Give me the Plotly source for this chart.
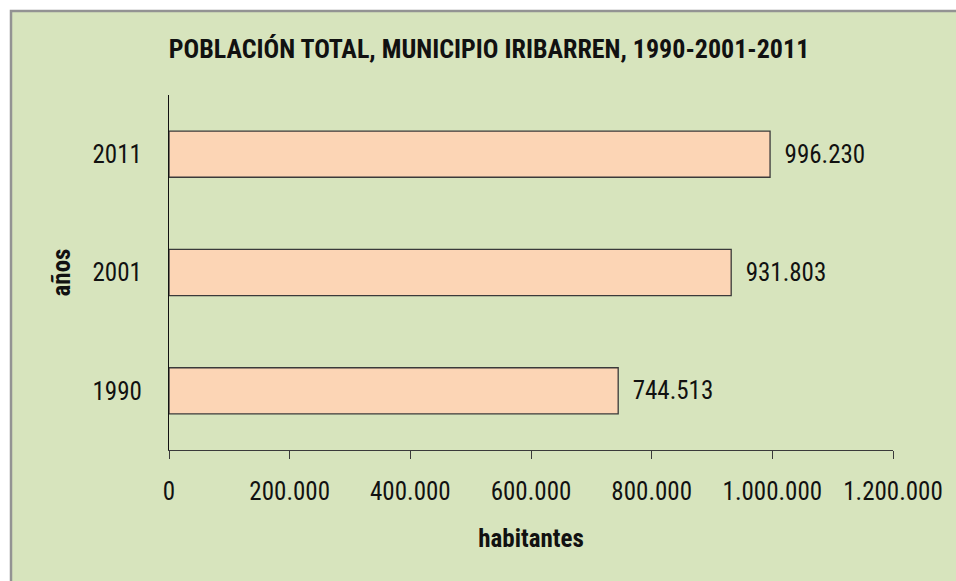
import plotly.graph_objects as go

years = ["1990", "2001", "2011"]
population = [744513, 931803, 996230]
x_tick_vals = [0, 200000, 400000, 600000, 800000, 1000000, 1200000]
x_tick_text = ["0", "200.000", "400.000", "600.000", "800.000", "1.000.000", "1.200.000"]

labels = [f"{v:,}".replace(",", ".") for v in population]

FONT = "Roboto Condensed, DejaVu Sans Condensed, sans-serif"
GREEN = "#D7E4BD"
SZ = 25

L, R, T, B = 169, 63, 95, 131
PW, PH = 956 - L - R, 581 - T - B

fig = go.Figure(go.Bar(
    x=population, y=years, orientation="h",
    marker=dict(color="#FCD5B5", line=dict(color="#3a3a3a", width=1.3)),
    width=0.39,
    text=labels, texttemplate="\u00a0\u00a0%{text}", textposition="outside",
    textfont=dict(family=FONT, size=SZ, color="#111111"),
    cliponaxis=False,
    hoverinfo="x+y",
))

fig.update_layout(
    width=956, height=581,
    paper_bgcolor="white",
    plot_bgcolor="rgba(0,0,0,0)",
    margin=dict(l=L, r=R, t=T, b=B),
    font=dict(family=FONT, size=SZ, color="#111111"),
    title=dict(text="<b>POBLACIÓN TOTAL, MUNICIPIO IRIBARREN, 1990-2001-2011</b>",
               x=489/956, xanchor="center", y=1 - 49/581, yanchor="middle",
               font=dict(family=FONT, size=26, color="#111111")),
    showlegend=False,
    shapes=[dict(type="rect", xref="paper", yref="paper",
                 x0=(11 - L) / PW, x1=(1200 - L) / PW,
                 y0=-(B + 200) / PH, y1=1 + (T - 11) / PH,
                 fillcolor=GREEN, line=dict(color="#939393", width=2.5),
                 layer="below")],
)

fig.update_xaxes(
    range=[0, 1200000], tickvals=x_tick_vals, ticktext=x_tick_text,
    showgrid=False, zeroline=False, showline=True, linecolor="#3a3a3a", linewidth=1.3,
    ticks="outside", ticklen=8, tickcolor="#3a3a3a", tickwidth=1.3,
    ticklabelstandoff=11,
    tickfont=dict(family=FONT, size=SZ, color="#111111"),
    title=dict(text="<b>habitantes</b>", standoff=24,
               font=dict(family=FONT, size=SZ, color="#111111")),
)
fig.update_yaxes(
    range=[-0.5, 2.5], type="category",
    showgrid=False, zeroline=False, showline=True, linecolor="#111111", linewidth=1.3,
    ticks="", ticklabelstandoff=21,
    tickfont=dict(family=FONT, size=SZ, color="#111111"),
    title=dict(text="<b>años</b>", standoff=14,
               font=dict(family=FONT, size=SZ, color="#111111")),
)

fig.write_html("out.html", config={"displayModeBar": False},
               post_script="document.body.style.margin='0';document.body.style.overflow='hidden';")
